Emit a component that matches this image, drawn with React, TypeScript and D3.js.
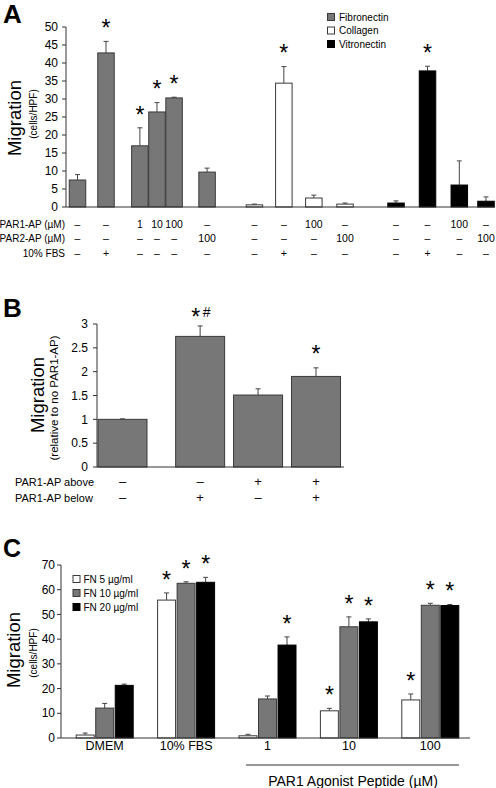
import React from "react";
import * as d3 from "d3";

const FONT = "Arial, 'Liberation Sans', Helvetica, sans-serif";

// ---------- Panel A data ----------
const aMaterial = ["F", "F", "F", "F", "F", "F", "C", "C", "C", "C", "V", "V", "V", "V"];
const aMean = [7.5, 42.8, 17, 26.4, 30.3, 9.7, 0.6, 34.4, 2.5, 0.8, 1.1, 37.8, 6.1, 1.6];
const aErr = [1.5, 3.2, 5, 2.6, 0.2, 1.1, 0.2, 4.6, 0.8, 0.3, 0.6, 1.3, 6.7, 1.2];
const aSig = [false, true, true, true, true, false, false, true, false, false, false, true, false, false];
const aPar1 = ["–", "–", "1", "10", "100", "–", "–", "–", "100", "–", "–", "–", "100", "–"];
const aPar2 = ["–", "–", "–", "–", "–", "100", "–", "–", "–", "100", "–", "–", "–", "100"];
const aFbs = ["–", "+", "–", "–", "–", "–", "–", "+", "–", "–", "–", "+", "–", "–"];
const aRowLabels = ["PAR1-AP (\u00b5M)", "PAR2-AP (\u00b5M)", "10% FBS"];
const aLegend = ["Fibronectin", "Collagen", "Vitronectin"];
const aTicks = [0, 5, 10, 15, 20, 25, 30, 35, 40, 45, 50];
// layout: slot index of each bar along the axis
const aSlot = [0, 0.95, 2.08, 2.65, 3.22, 4.32, 5.9, 6.88, 7.88, 8.92, 10.62, 11.67, 12.73, 13.62];

// ---------- Panel B data ----------
const bMean = [1.0, 2.74, 1.51, 1.9];
const bErr = [0.01, 0.22, 0.13, 0.18];
const bStar = [false, true, true];
const bHash = [false, true, false, false];
const bSigStar = [false, true, false, true];
const bAbove = ["–", "–", "+", "+"];
const bBelow = ["–", "+", "–", "+"];
const bRowLabels = ["PAR1-AP above", "PAR1-AP below"];
const bTicks = [0, 0.5, 1, 1.5, 2, 2.5, 3];
const bSlot = [0, 1.34, 2.34, 3.34];

// ---------- Panel C data ----------
const cGroups = ["DMEM", "10% FBS", "1", "10", "100"];
const cSeries = ["FN 5 \u00b5g/ml", "FN 10 \u00b5g/ml", "FN 20 \u00b5g/ml"];
const cMean5 = [1.2, 55.8, 0.9, 11, 15.4];
const cMean10 = [12.1, 62.6, 15.8, 45, 53.7];
const cMean20 = [21.3, 63, 37.6, 47, 53.6];
const cErr5 = [0.8, 2.9, 0.6, 1.0, 2.4];
const cErr10 = [1.9, 0.6, 1.2, 4, 0.8];
const cErr20 = [0.5, 2.0, 3.3, 1.2, 0.4];
const cSig5 = [false, true, false, true, true];
const cSig10 = [false, true, false, true, true];
const cSig20 = [false, true, true, true, true];
const cTicks = [0, 10, 20, 30, 40, 50, 60, 70];
const cAgonistLabel = "PAR1 Agonist Peptide (\u00b5M)";

const fills: Record<string, string> = { F: "#777777", C: "#ffffff", V: "#000000" };
const strokes: Record<string, string> = { F: "#3a3a3a", C: "#3a3a3a", V: "#000000" };
const cFill = ["#ffffff", "#777777", "#000000"];
const cStroke = ["#3a3a3a", "#3a3a3a", "#000000"];

const STAR_SIZE = 23;

function Star({ x, cy }: { x: number; cy: number }) {
  // place asterisk so that its visual centre is at cy
  return (
    <text x={x} y={cy + STAR_SIZE * 0.56} textAnchor="middle" fontSize={STAR_SIZE} fontFamily={FONT}>*</text>
  );
}

function ErrBar({ x, y0, y1 }: { x: number; y0: number; y1: number }) {
  return (
    <g stroke="#444" strokeWidth={1}>
      <line x1={x} x2={x} y1={y0} y2={y1} />
      <line x1={x - 2.5} x2={x + 2.5} y1={y1} y2={y1} />
    </g>
  );
}

function YAxis({ x, y, ticks, labelX }: { x: number; y: d3.ScaleLinear<number, number>; ticks: number[]; labelX: number }) {
  const [r0, r1] = y.range();
  return (
    <g>
      <line x1={x} x2={x} y1={r0} y2={r1} stroke="#333" strokeWidth={1} />
      {ticks.map((t) => (
        <g key={t}>
          <line x1={x - 4} x2={x} y1={y(t)} y2={y(t)} stroke="#333" />
          <text x={labelX} y={y(t) + 4.2} textAnchor="end" fontSize={12} fontFamily={FONT}>
            {String(t)}
          </text>
        </g>
      ))}
    </g>
  );
}

function PanelA() {
  const y = d3.scaleLinear().domain([0, 50]).range([207, 27]);
  const x = d3.scaleLinear().domain([0, 13.62]).range([77.5, 486]);
  const bw = 16.5;
  const rows = [aPar1, aPar2, aFbs];
  const rowY = [227.5, 242, 256.5];
  return (
    <g>
      <text x={3} y={23} fontSize={26} fontWeight="bold" fontFamily={FONT}>A</text>
      <text transform={`translate(21,118) rotate(-90)`} textAnchor="middle" fontSize={18.5} fontFamily={FONT}>Migration</text>
      <text transform={`translate(37,114) rotate(-90)`} textAnchor="middle" fontSize={10} fontFamily={FONT}>(cells/HPF)</text>
      {aMean.map((m, i) => {
        const cx = x(aSlot[i]);
        return (
          <g key={i}>
            <ErrBar x={cx} y0={y(m)} y1={y(m + aErr[i])} />
            <rect x={cx - bw / 2} y={y(m)} width={bw} height={y(0) - y(m)} fill={fills[aMaterial[i]]} stroke={strokes[aMaterial[i]]} strokeWidth={1} />
            {aSig[i] && <Star x={cx} cy={y(m + aErr[i]) - 18} />}
          </g>
        );
      })}
      <YAxis x={66} y={y} ticks={aTicks} labelX={58} />
      <line x1={66} x2={495} y1={207} y2={207} stroke="#333" />
      {aRowLabels.map((l, r) => (
        <text key={l} x={65} y={rowY[r]} textAnchor="end" fontSize={10} fontFamily={FONT}>{l}</text>
      ))}
      {rows.map((row, r) =>
        row.map((v, i) => (
          <text key={r + "-" + i} x={x(aSlot[i])} y={rowY[r]} textAnchor="middle" fontSize={10.5} fontFamily={FONT}>{v}</text>
        ))
      )}
      {aLegend.map((l, i) => {
        const key = ["F", "C", "V"][i];
        const ly = 17 + i * 13.5;
        return (
          <g key={l}>
            <rect x={327.5} y={ly - 3.5} width={7} height={7} fill={fills[key]} stroke={strokes[key]} />
            <text x={339} y={ly + 3.5} fontSize={10} fontFamily={FONT}>{l}</text>
          </g>
        );
      })}
    </g>
  );
}

function PanelB() {
  const y = d3.scaleLinear().domain([0, 3]).range([467, 324]);
  const x = d3.scaleLinear().domain([0, 3.34]).range([122.5, 316]);
  const bw = 49;
  const rowY = [486, 502];
  return (
    <g>
      <text x={3} y={317} fontSize={26} fontWeight="bold" fontFamily={FONT}>B</text>
      <text transform={`translate(44,395) rotate(-90)`} textAnchor="middle" fontSize={18.5} fontFamily={FONT}>Migration</text>
      <text transform={`translate(58,398) rotate(-90)`} textAnchor="middle" fontSize={11.5} fontFamily={FONT}>(relative to no PAR1-AP)</text>
      {bMean.map((m, i) => {
        const cx = x(bSlot[i]);
        const top = y(m + bErr[i]);
        const cy = bHash[i] ? top - 13.5 : top - 19;
        return (
          <g key={i}>
            <ErrBar x={cx} y0={y(m)} y1={top} />
            <rect x={cx - bw / 2} y={y(m)} width={bw} height={y(0) - y(m)} fill="#777777" stroke="#3a3a3a" />
            {bSigStar[i] && <Star x={bHash[i] ? cx - 4.5 : cx} cy={cy} />}
            {bHash[i] && (
              <text x={cx + 6.5} y={cy + 5} textAnchor="middle" fontSize={14} fontFamily={FONT}>#</text>
            )}
          </g>
        );
      })}
      <YAxis x={97} y={y} ticks={bTicks} labelX={88} />
      <line x1={97} x2={344} y1={467} y2={467} stroke="#333" />
      {bRowLabels.map((l, r) => (
        <text key={l} x={15} y={rowY[r]} fontSize={11} fontFamily={FONT}>{l}</text>
      ))}
      {[bAbove, bBelow].map((row, r) =>
        row.map((v, i) => (
          <text key={r + "-" + i} x={x(bSlot[i])} y={rowY[r]} textAnchor="middle" fontSize={13} fontFamily={FONT}>{v}</text>
        ))
      )}
    </g>
  );
}

function PanelC() {
  const y = d3.scaleLinear().domain([0, 70]).range([738, 565]);
  const x0 = d3.scaleBand<string>().domain(cGroups).range([64, 471]);
  const x1 = d3.scaleBand<number>().domain([0, 1, 2]).range([-28.5, 28.5]).paddingInner(0.08);
  const means = [cMean5, cMean10, cMean20];
  const errs = [cErr5, cErr10, cErr20];
  const sigs = [cSig5, cSig10, cSig20];
  return (
    <g>
      <text x={3} y={557} fontSize={25} fontWeight="bold" fontFamily={FONT}>C</text>
      <text transform={`translate(20,650) rotate(-90)`} textAnchor="middle" fontSize={18.5} fontFamily={FONT}>Migration</text>
      <text transform={`translate(37,653) rotate(-90)`} textAnchor="middle" fontSize={10} fontFamily={FONT}>(cells/HPF)</text>
      {cGroups.map((g, gi) => {
        const gx = (x0(g) as number) + x0.bandwidth() / 2;
        return (
          <g key={g}>
            {[0, 1, 2].map((s) => {
              const m = means[s][gi];
              const e = errs[s][gi];
              const bx = gx + (x1(s) as number);
              const bw = x1.bandwidth();
              return (
                <g key={s}>
                  <ErrBar x={bx + bw / 2} y0={y(m)} y1={y(m + e)} />
                  <rect x={bx} y={y(m)} width={bw} height={y(0) - y(m)} fill={cFill[s]} stroke={cStroke[s]} />
                  {sigs[s][gi] && <Star x={bx + bw / 2} cy={y(m + e) - 18} />}
                </g>
              );
            })}
            <text x={gx} y={749.5} textAnchor="middle" fontSize={12.5} fontFamily={FONT}>{g}</text>
          </g>
        );
      })}
      <YAxis x={61} y={y} ticks={cTicks} labelX={55} />
      <line x1={61} x2={470} y1={738} y2={738} stroke="#333" />
      <line x1={246} x2={459} y1={765} y2={765} stroke="#333" />
      <text x={353} y={786} textAnchor="middle" fontSize={14} fontFamily={FONT}>{cAgonistLabel}</text>
      {cSeries.map((l, i) => {
        const ly = 579 + i * 14;
        return (
          <g key={l}>
            <rect x={73} y={ly - 3.5} width={7} height={7} fill={cFill[i]} stroke={cStroke[i]} />
            <text x={83.5} y={ly + 3.5} fontSize={10} fontFamily={FONT}>{l}</text>
          </g>
        );
      })}
    </g>
  );
}

export default function App() {
  return (
    <svg width={496} height={788} style={{ position: "absolute", left: 0, top: 0, background: "#fff" }}>
      <rect width={496} height={788} fill="#fff" />
      <PanelA />
      <PanelB />
      <PanelC />
    </svg>
  );
}
